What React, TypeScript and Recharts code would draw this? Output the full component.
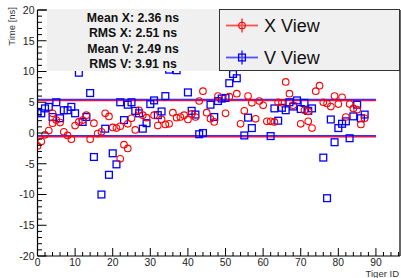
import React from "react";
import { ScatterChart, Scatter, XAxis, YAxis, ReferenceLine } from "recharts";

// X View (red circles): Tiger ID and time [ns]
const xViewIds = [
  0, 1, 2, 3, 4, 4, 5, 6, 7, 8, 9, 10, 11, 12, 13, 14, 15, 16, 17, 18, 19, 20,
  21, 22, 22, 23, 24, 24, 25, 26, 27, 28, 29, 31, 32, 33, 34, 35, 36, 37, 38, 39,
  40, 41, 42, 43, 44, 45, 46, 47, 48, 50, 51, 53, 54, 55, 56, 57, 58, 59, 60, 61,
  62, 63, 64, 65, 66, 67, 68, 70, 71, 72, 72, 73, 74, 75, 76, 77, 78, 79, 80, 81,
  82, 83, 84, 85, 86, 87,
];
const xViewTimes = [
  -2.1, -1.4, -0.3, 0.4, 3.2, 1.6, 2.1, 1.7, 0.2, -0.4, -1.0, 1.2, 1.8, 2.1, 2.9,
  -1.0, 1.6, -0.1, 0.2, 3.2, 2.7, 0.9, 0.8, 1.1, -4.2, -1.9, -2.5, 1.5, 2.4, 0.5,
  3.7, 2.9, 2.5, 2.9, 1.2, 2.2, 1.4, 1.5, 3.3, 2.5, 2.6, 2.9, 2.2, 3.1, 2.6, 5.2,
  6.8, 3.3, 2.3, 1.8, 6.0, 3.2, 5.9, 6.4, 1.5, 3.6, 6.0, 4.9, 2.3, 5.2, 4.5, 1.9,
  1.9, 1.8, 5.0, 4.9, 8.3, 6.4, 4.5, 1.5, 3.7, 3.5, 1.9, 0.8, 6.8, 7.7, 5.0, 4.8,
  4.3, 6.0, 4.7, 5.8, 2.6, 4.7, 4.0, 3.8, 1.4, 2.4,
];

// V View (blue squares)
const vViewIds = [
  0, 1, 2, 3, 4, 5, 6, 7, 8, 9, 10, 11, 12, 13, 14, 15, 17, 18, 19, 20, 21, 22,
  23, 24, 25, 26, 27, 28, 29, 30, 31, 32, 33, 34, 35, 37, 40, 41, 42, 43, 44, 46,
  47, 48, 49, 50, 51, 52, 53, 55, 56, 57, 62, 63, 64, 65, 66, 67, 68, 69, 70, 71,
  72, 73, 76, 77, 78, 79, 80, 81, 82, 83, 84, 85, 86, 87,
];
const vViewTimes = [
  3.3, 3.2, 4.0, 4.25, 2.6, 5.0, 2.4, 3.7, 3.7, 4.25, 3.2, 9.8, 1.8, 2.6, 6.5,
  -3.9, -10.0, 0.7, -6.8, -3.3, -5.1, 5.0, 2.1, 4.6, 5.0, 3.6, 3.2, 0.7, 1.6, 4.7,
  5.3, 2.9, 3.5, 6.0, 10.3, 10.2, 6.6, 3.6, 3.0, -0.2, 0.0, 4.6, 2.6, 5.2, 5.6,
  5.7, 8.1, 9.6, 8.9, -0.4, 2.5, 0.8, -0.5, 4.0, 2.0, 4.1, 3.7, 5.0, 4.3, 5.3, 3.9,
  4.9, 3.6, 4.0, -4.0, -10.6, 2.2, -1.5, 0.8, 1.5, 1.9, -0.85, 2.7, 4.6, 2.4, 3.0,
];

// horizontal band lines, drawn from Tiger ID 0 to 90
const xBandTimes = [5.3, -0.6];
const vBandTimes = [5.45, -0.45];
const bandEnd = 90;

const statLines = [
  "Mean X: 2.36 ns",
  "RMS X: 2.51 ns",
  "Mean V: 2.49 ns",
  "RMS V: 3.91 ns",
];
const legendLabels = ["X View", "V View"];

const xMax = 96.4;
const xTicks = Array.from({ length: 49 }, (_, i) => i * 2);
const yTicks = Array.from({ length: 41 }, (_, i) => i - 20);

const font = '"Liberation Sans", Arial, Helvetica, sans-serif';
const RED = "#ff0000";
const BLUE = "#0000ff";

const xData = xViewIds.map((id, i) => ({ x: id, y: xViewTimes[i] }));
const vData = vViewIds.map((id, i) => ({ x: id, y: vViewTimes[i] }));

function XTick(props: any) {
  const { x, y, payload } = props;
  const v = payload.value;
  const major = v % 10 === 0;
  return (
    <g>
      <line x1={x} x2={x} y1={y} y2={y - (major ? 8 : 4)} stroke="#000" />
      {major && (
        <text x={x} y={y + 9.5} textAnchor="middle" fontSize={10.3} fill="#222" fontFamily={font}>
          {v}
        </text>
      )}
    </g>
  );
}

function YTick(props: any) {
  const { x, y, payload } = props;
  const v = payload.value;
  const major = v % 5 === 0;
  return (
    <g>
      <line x1={x} x2={x + (major ? 9 : 4.5)} y1={y} y2={y} stroke="#000" />
      {major && (
        <text x={x - 3} y={y} dy="0.36em" textAnchor="end" fontSize={10.5} fill="#222" fontFamily={font}>
          {v}
        </text>
      )}
    </g>
  );
}

const circle = (p: any) => (
  <circle cx={p.cx} cy={p.cy} r={3.3} fill="none" stroke={RED} strokeWidth={1.1} />
);
const square = (p: any) => (
  <rect x={p.cx - 3.4} y={p.cy - 3.4} width={6.8} height={6.8} fill="none" stroke={BLUE} strokeWidth={1.3} />
);

export default function App() {
  return (
    <div style={{ position: "fixed", left: 0, top: 0, width: 401, height: 278, background: "#fff" }}>
      <ScatterChart width={401} height={278} margin={{ top: 10, right: 1, bottom: 0, left: 0 }}>
        <XAxis
          type="number"
          dataKey="x"
          domain={[0, xMax]}
          ticks={xTicks}
          interval={0}
          tick={<XTick />}
          tickLine={false}
          tickSize={0}
          tickMargin={0}
          height={22}
          axisLine={{ stroke: "#000", strokeWidth: 1.2 }}
          allowDataOverflow
        />
        <YAxis
          type="number"
          dataKey="y"
          domain={[-20, 20]}
          ticks={yTicks}
          interval={0}
          tick={<YTick />}
          tickLine={false}
          tickSize={0}
          tickMargin={0}
          width={37.5}
          axisLine={{ stroke: "#000", strokeWidth: 1.2 }}
          allowDataOverflow
        />
        <ReferenceLine x={xMax} stroke="#000" strokeWidth={1.2} />
        <ReferenceLine y={20} stroke="#000" strokeWidth={1.2} />
        {vBandTimes.map((t) => (
          <ReferenceLine
            key={"v" + t}
            segment={[{ x: 0, y: t }, { x: bandEnd, y: t }]}
            stroke="#3030ff"
            strokeWidth={1.5}
          />
        ))}
        {xBandTimes.map((t) => (
          <ReferenceLine
            key={"x" + t}
            segment={[{ x: 0, y: t }, { x: bandEnd, y: t }]}
            stroke="#e0105a"
            strokeWidth={1.5}
          />
        ))}
        <Scatter name="V View" data={vData} shape={square} isAnimationActive={false} />
        <Scatter name="X View" data={xData} shape={circle} isAnimationActive={false} />
      </ScatterChart>

      <svg
        width={401}
        height={278}
        style={{ position: "absolute", left: 0, top: 0, pointerEvents: "none" }}
      >
        <text
          transform="translate(15,7) rotate(-90)"
          textAnchor="end"
          fontSize={9.5}
          fill="#333"
          fontFamily={font}
        >
          Time [ns]
        </text>
        <text x={399} y={277} textAnchor="end" fontSize={9.5} fill="#333" fontFamily={font}>
          Tiger ID
        </text>

        {/* stats box */}
        <rect x={47} y={9} width={172} height={62} fill="#f0f0f0" />
        {statLines.map((s, i) => (
          <text
            key={s}
            x={133}
            y={17.3 + i * 15.5}
            dy="0.36em"
            textAnchor="middle"
            fontSize={12.3}
            fontWeight="bold"
            fill="#111"
            fontFamily={font}
          >
            {s}
          </text>
        ))}

        {/* legend box */}
        <rect x={219.5} y={9.5} width={180} height={61} fill="#f0f0f0" stroke="#333" strokeWidth={1} />
        {legendLabels.map((label, i) => {
          const cy = 25.5 + i * 32;
          const col = i === 0 ? "#ff5050" : "#5050ff";
          const solid = i === 0 ? RED : BLUE;
          return (
            <g key={label}>
              <line x1={226} x2={258} y1={cy} y2={cy} stroke={col} strokeWidth={1.8} />
              <line x1={242} x2={242} y1={cy - 7} y2={cy + 7} stroke={col} strokeWidth={1.8} />
              {i === 0 ? (
                <circle cx={242} cy={cy} r={3.3} fill="none" stroke={solid} strokeWidth={1.1} />
              ) : (
                <rect x={238.6} y={cy - 3.4} width={6.8} height={6.8} fill="none" stroke={solid} strokeWidth={1.3} />
              )}
              <text x={264} y={cy} dy="0.36em" fontSize={18} fill="#111" fontFamily={font}>
                {label}
              </text>
            </g>
          );
        })}
      </svg>
    </div>
  );
}
